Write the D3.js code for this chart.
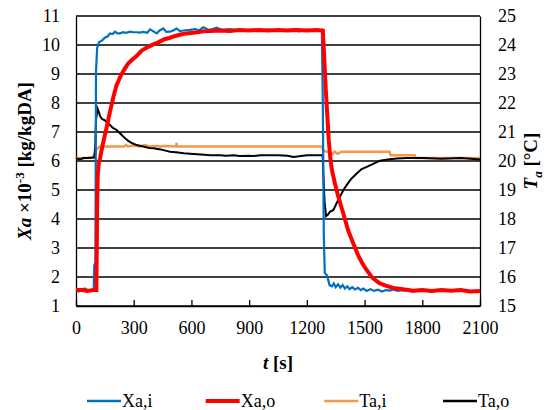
<!DOCTYPE html>
<html>
<head>
<meta charset="utf-8">
<script src="https://cdn.jsdelivr.net/npm/d3@7"></script>
</head>
<body style="margin:0">
<svg id="chart" width="546" height="410" font-family="Liberation Serif"></svg>
<script>
// time ticks and value ranges
var tTicks = [0, 300, 600, 900, 1200, 1500, 1800, 2100]
var xaTicks = [1, 2, 3, 4, 5, 6, 7, 8, 9, 10, 11]
var taTicks = [15, 16, 17, 18, 19, 20, 21, 22, 23, 24, 25]
var seriesNames = ["Xa,i", "Xa,o", "Ta,i", "Ta,o"]

// Xa,i  [t (s), Xa x10^-3]
var xaIn = [[0,1.55],[15,1.5],[30,1.55],[45,1.6],[60,1.55],[80,1.55],[92,1.56],[95,2.4],[101,2.5],[104,9.1],[110,9.9],[120,10.1],[135,10.15],[150,10.25],[165,10.3],[177,10.4],[190,10.38],[203,10.46],[215,10.4],[229,10.4],[245,10.44],[260,10.42],[281,10.46],[300,10.44],[315,10.44],[330,10.43],[350,10.45],[370,10.42],[385,10.54],[400,10.48],[420,10.4],[435,10.5],[454,10.57],[470,10.45],[489,10.46],[505,10.5],[523,10.57],[540,10.48],[560,10.5],[593,10.52],[620,10.55],[640,10.5],[662,10.61],[690,10.52],[710,10.55],[731,10.6],[760,10.52],[800,10.55],[850,10.5],[900,10.52],[950,10.5],[1000,10.53],[1050,10.5],[1100,10.52],[1147,10.55],[1160,10.47],[1200,10.52],[1250,10.5],[1278,10.52],[1283,8],[1288,3.5],[1293,2.15],[1305,2.05],[1318,1.72],[1330,1.68],[1340,1.78],[1350,1.65],[1362,1.75],[1374,1.63],[1386,1.72],[1398,1.6],[1410,1.68],[1422,1.58],[1436,1.65],[1450,1.57],[1466,1.63],[1480,1.55],[1494,1.6],[1510,1.52],[1530,1.58],[1550,1.52],[1570,1.56],[1590,1.5],[1610,1.55],[1630,1.53],[1650,1.57],[1670,1.52],[1700,1.55],[1750,1.5],[1800,1.53],[1850,1.5],[1900,1.55],[1950,1.52],[2000,1.54],[2050,1.5],[2100,1.52]]

// Xa,o
var xaOut = [[0,1.55],[30,1.55],[60,1.52],[90,1.55],[106,1.55],[108,3],[110,4.5],[113,5.5],[118,5.9],[125,6.1],[140,6.6],[160,7.18],[175,7.65],[194,8.2],[210,8.6],[230,8.9],[246,9.1],[270,9.35],[290,9.48],[315,9.62],[340,9.8],[370,9.92],[402,10.02],[430,10.1],[460,10.2],[489,10.25],[520,10.32],[550,10.37],[575,10.4],[610,10.42],[640,10.45],[660,10.47],[700,10.48],[750,10.5],[800,10.48],[850,10.52],[900,10.5],[950,10.52],[1000,10.5],[1050,10.52],[1100,10.5],[1150,10.52],[1200,10.5],[1250,10.52],[1283,10.5],[1290,9.6],[1298,8.5],[1306,7.6],[1314,6.7],[1322,6.1],[1330,5.7],[1345,5.25],[1362,4.8],[1389,4.2],[1415,3.6],[1441,3.16],[1470,2.7],[1490,2.45],[1511,2.24],[1540,1.98],[1560,1.87],[1580,1.78],[1610,1.7],[1649,1.62],[1700,1.58],[1752,1.53],[1800,1.55],[1850,1.52],[1900,1.55],[1950,1.53],[2000,1.55],[2050,1.5],[2100,1.52]]

// Ta,i  [t (s), degC]
var taIn = [[0,20.1],[50,20.1],[85,20.12],[92,20.2],[100,20.22],[104,20.38],[115,20.45],[125,20.5],[200,20.5],[250,20.5],[260,20.55],[270,20.5],[300,20.53],[330,20.5],[360,20.55],[380,20.5],[420,20.52],[440,20.5],[455,20.52],[520,20.5],[523,20.62],[526,20.5],[600,20.5],[800,20.5],[1000,20.5],[1200,20.5],[1278,20.5],[1285,20.35],[1300,20.33],[1320,20.3],[1330,20.22],[1345,20.32],[1360,20.25],[1380,20.32],[1500,20.32],[1630,20.32],[1635,20.2],[1760,20.2],[1765,20.1],[1900,20.1],[2100,20.1]]

// Ta,o
var taOut = [[0,20.1],[20,20.05],[40,20.1],[60,20.1],[95,20.12],[100,20.5],[104,21.4],[112,21.8],[118,21.7],[125,21.55],[135,21.45],[150,21.4],[165,21.3],[177,21.24],[190,21.15],[211,21.07],[230,20.95],[246,20.84],[270,20.7],[290,20.62],[315,20.55],[350,20.5],[380,20.45],[402,20.44],[440,20.4],[470,20.35],[489,20.32],[520,20.3],[560,20.27],[610,20.24],[650,20.22],[700,20.2],[749,20.2],[780,20.18],[820,20.2],[850,20.17],[900,20.18],[920,20.17],[960,20.2],[1000,20.2],[1050,20.2],[1100,20.18],[1130,20.14],[1160,20.16],[1200,20.2],[1250,20.2],[1282,20.2],[1286,19.5],[1292,18.6],[1300,18.1],[1310,18.15],[1320,18.25],[1338,18.31],[1355,18.55],[1372,18.77],[1390,19.0],[1407,19.17],[1430,19.38],[1459,19.57],[1485,19.72],[1511,19.8],[1545,19.9],[1580,20.01],[1620,20.05],[1667,20.09],[1720,20.1],[1800,20.1],[1900,20.08],[2000,20.1],[2100,20.05]]

var margin = {top: 16, right: 66, bottom: 104, left: 76},
    width = 546 - margin.left - margin.right,
    height = 410 - margin.top - margin.bottom

var svg = d3.select("#chart")
var chart = svg.append("g")
    .attr("transform", "translate(" + margin.left + "," + margin.top + ")")

var x = d3.scaleLinear().domain([0, 2100]).range([0, width])
var yL = d3.scaleLinear().domain([1, 11]).range([height, 0])
var yR = d3.scaleLinear().domain([15, 25]).range([height, 0])

// horizontal grid
chart.append("g")
    .selectAll("line")
    .data(xaTicks)
    .enter().append("line")
    .attr("x1", 0).attr("x2", width)
    .attr("y1", d => yL(d)).attr("y2", d => yL(d))
    .attr("stroke", "#000").attr("stroke-width", 1.3)

function styleTicks(sel) {
    sel.attr("font-family", "Liberation Serif").attr("font-size", 18)
    sel.select(".domain").attr("stroke", "#000").attr("stroke-width", 1.3)
    sel.selectAll(".tick line").attr("stroke", "#000").attr("stroke-width", 1.3)
    sel.selectAll("text").attr("fill", "#000")
}

// left axis
var yAxisL = d3.axisLeft(yL).tickValues(xaTicks).tickSize(0).tickPadding(16)
chart.append("g").call(yAxisL).call(styleTicks)

// right axis
var yAxisR = d3.axisRight(yR).tickValues(taTicks).tickSize(0).tickPadding(18)
chart.append("g").attr("transform", "translate(" + width + ",0)").call(yAxisR).call(styleTicks)

// bottom axis, ticks pointing inward
var xAxis = d3.axisBottom(x).tickValues(tTicks).tickFormat(d3.format("d"))
    .tickSizeInner(-6).tickSizeOuter(0).tickPadding(15)
chart.append("g").attr("transform", "translate(0," + height + ")").call(xAxis).call(styleTicks)

var lineL = d3.line().x(d => x(d[0])).y(d => yL(d[1]))
var lineR = d3.line().x(d => x(d[0])).y(d => yR(d[1]))

var plot = chart.append("g")
plot.append("path").datum(taIn).attr("d", lineR)
    .attr("fill", "none").attr("stroke", "#F79646").attr("stroke-width", 2.5)
plot.append("path").datum(taOut).attr("d", lineR)
    .attr("fill", "none").attr("stroke", "#000").attr("stroke-width", 2)
plot.append("path").datum(xaIn).attr("d", lineL)
    .attr("fill", "none").attr("stroke", "#0070C0").attr("stroke-width", 2.2)
plot.append("path").datum(xaOut).attr("d", lineL)
    .attr("fill", "none").attr("stroke", "#FF0000").attr("stroke-width", 4)

// axis titles
var xt = svg.append("text")
    .attr("x", margin.left + width / 2).attr("y", 369)
    .attr("text-anchor", "middle").attr("font-size", 19).attr("font-weight", "bold")
xt.append("tspan").attr("font-style", "italic").text("t")
xt.append("tspan").text(" [s]")

var ylt = svg.append("text")
    .attr("transform", "translate(31," + (margin.top + height / 2) + ") rotate(-90)")
    .attr("text-anchor", "middle").attr("font-size", 19).attr("font-weight", "bold")
ylt.append("tspan").attr("font-style", "italic").text("Xa")
ylt.append("tspan").text(" ×10")
ylt.append("tspan").attr("font-size", 13).attr("dy", -7).text("-3")
ylt.append("tspan").attr("dy", 7).text(" [kg/kgDA]")

var yrt = svg.append("text")
    .attr("transform", "translate(537," + (margin.top + height / 2) + ") rotate(-90)")
    .attr("text-anchor", "middle").attr("font-size", 19).attr("font-weight", "bold")
yrt.append("tspan").attr("font-style", "italic").text("T")
yrt.append("tspan").attr("font-style", "italic").attr("font-size", 13).attr("dy", 5).text("a")
yrt.append("tspan").attr("dy", -5).text(" [°C]")

// legend
var legendColors = ["#0070C0", "#FF0000", "#F79646", "#000"]
var legendWidths = [2.5, 4, 2.5, 2.5]
var legendX = d3.scalePoint().domain(seriesNames).range([87, 443])
var lg = svg.append("g").selectAll("g")
    .data(seriesNames).enter().append("g")
    .attr("transform", d => "translate(" + legendX(d) + ",401)")
lg.append("line").attr("x1", 0).attr("x2", 34).attr("y1", 0).attr("y2", 0)
    .attr("stroke", (d, i) => legendColors[i]).attr("stroke-width", (d, i) => legendWidths[i])
lg.append("text").attr("x", 35).attr("y", 6).attr("font-size", 18).text(d => d)
</script>
</body>
</html>
